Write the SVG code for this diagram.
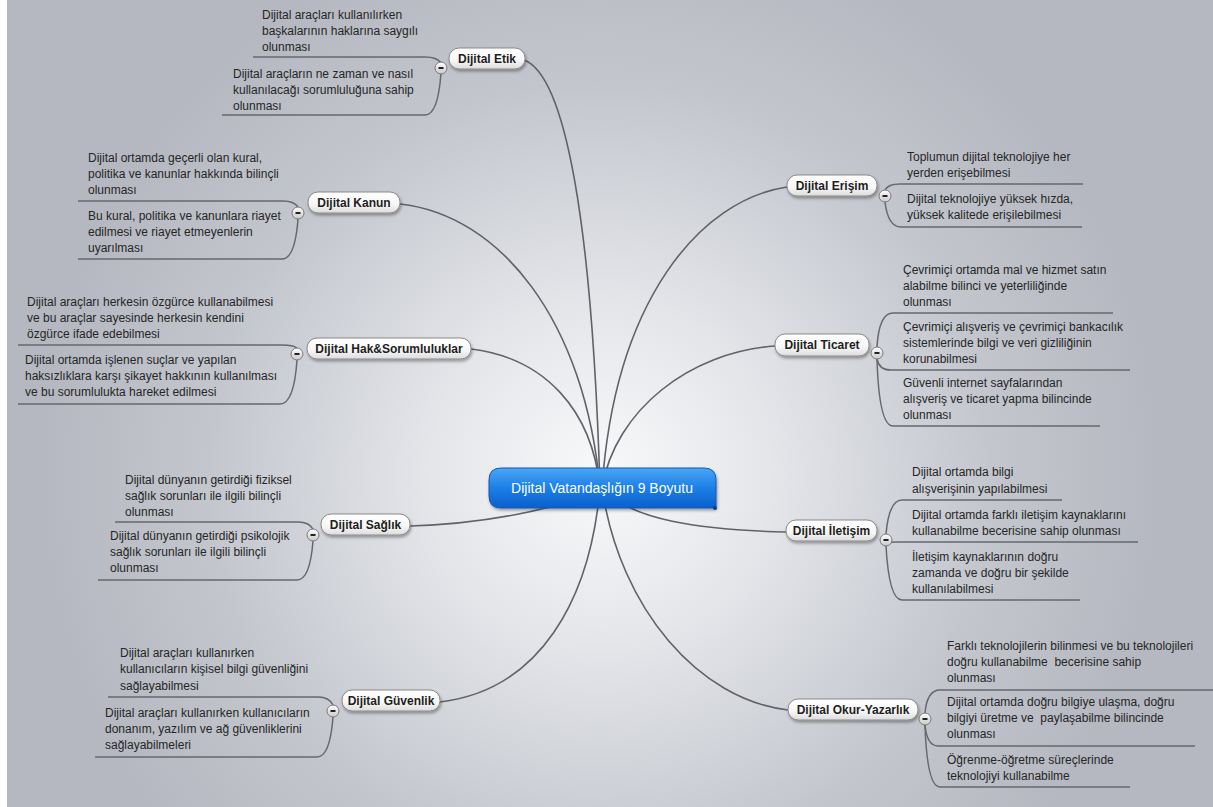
<svg xmlns="http://www.w3.org/2000/svg" width="1213" height="807" viewBox="0 0 1213 807">
<defs>
<radialGradient id="bg" gradientUnits="userSpaceOnUse" cx="600" cy="475" r="560">
<stop offset="0" stop-color="#f8f9fa"/>
<stop offset="0.3" stop-color="#e4e6ea"/>
<stop offset="0.7" stop-color="#c3c6cd"/>
<stop offset="1" stop-color="#b5b8c0"/>
</radialGradient>
<linearGradient id="pill" x1="0" y1="0" x2="0" y2="1">
<stop offset="0" stop-color="#ffffff"/>
<stop offset="0.6" stop-color="#f6f6f6"/>
<stop offset="1" stop-color="#dcdcdc"/>
</linearGradient>
<linearGradient id="blue" x1="0" y1="0" x2="0" y2="1">
<stop offset="0" stop-color="#4aa6f5"/>
<stop offset="0.5" stop-color="#1c7fe6"/>
<stop offset="1" stop-color="#0b5fcc"/>
</linearGradient>
<linearGradient id="btn" x1="0" y1="0" x2="0" y2="1">
<stop offset="0" stop-color="#ffffff"/>
<stop offset="1" stop-color="#c8c8c8"/>
</linearGradient>
<filter id="sh" x="-20%" y="-40%" width="140%" height="200%">
<feDropShadow dx="1" dy="2" stdDeviation="1.5" flood-color="#000" flood-opacity="0.35"/>
</filter>
<g id="minus">
<circle r="6" fill="url(#btn)" stroke="#7a7a7a" stroke-width="1"/>
<rect x="-2.5" y="-1" width="5" height="2" fill="#222"/>
</g>
</defs>
<style>
.t{font-family:"Liberation Sans",Arial,sans-serif;font-size:12px;fill:#262626}
.p{font-family:"Liberation Sans",Arial,sans-serif;font-size:12px;font-weight:bold;fill:#1e1e1e;text-anchor:middle}
.pb{fill:url(#pill);stroke:#8a8a8a;stroke-width:1;filter:url(#sh)}
.c{fill:none;stroke:#606268;stroke-width:1.6}
.u{fill:none;stroke:#66686e;stroke-width:1.5}
</style>
<rect width="1213" height="807" fill="url(#bg)"/>
<rect width="7" height="807" fill="#ffffff"/>

<g id="connectors">
<path class="c" d="M524,60 C565,75 592,220 600,488"/>
<path class="c" d="M400,204 C500,215 585,320 600,488"/>
<path class="c" d="M471,349 C545,358 592,410 600,488"/>
<path class="c" d="M410,526 C480,524 560,510 600,488"/>
<path class="c" d="M440,702 C540,690 590,600 600,488"/>
<path class="c" d="M787,187 C700,200 615,300 602,488"/>
<path class="c" d="M775,346 C690,352 615,410 602,488"/>
<path class="c" d="M786,532 C700,530 630,520 602,488"/>
<path class="c" d="M788,710 C700,700 620,610 602,488"/>
</g>

<g id="center">
<path d="M501,468 H704 Q716,468 716,480 V506 Q716,508 714,508 H501 Q489,508 489,496 V480 Q489,468 501,468 Z" fill="url(#blue)" stroke="#1559b5" stroke-width="1" filter="url(#sh)"/>
<circle cx="715" cy="508" r="2" fill="#0b3f8a"/>
<text x="602" y="493" font-family="Liberation Sans,Arial,sans-serif" font-size="14" fill="#ffffff" text-anchor="middle">Dijital Vatandaşlığın 9 Boyutu</text>
</g>

<g id="etik">
<path class="u" d="M253,57 L425,57 Q437,57 441,63"/>
<path class="u" d="M441,73 Q438,115 425,115 L222,115"/>
<text class="t" x="262" y="19">Dijital araçları kullanılırken</text>
<text class="t" x="262" y="35">başkalarının haklarına saygılı</text>
<text class="t" x="262" y="51">olunması</text>
<text class="t" x="233" y="78">Dijital araçların ne zaman ve nasıl</text>
<text class="t" x="233" y="94">kullanılacağı sorumluluğuna sahip</text>
<text class="t" x="233" y="110">olunması</text>
<rect class="pb" x="449" y="48" width="76" height="21" rx="10"/>
<text class="p" x="487" y="62.5">Dijital Etik</text>
<use href="#minus" x="441" y="68"/>
</g>

<g id="kanun">
<path class="u" d="M78,201 L283,201 Q294,201 298,207"/>
<path class="u" d="M298,219 Q295,259 282,259 L78,259"/>
<text class="t" x="88" y="162">Dijital ortamda geçerli olan kural,</text>
<text class="t" x="88" y="178">politika ve kanunlar hakkında bilinçli</text>
<text class="t" x="88" y="194">olunması</text>
<text class="t" x="88" y="220">Bu kural, politika ve kanunlara riayet</text>
<text class="t" x="88" y="236">edilmesi ve riayet etmeyenlerin</text>
<text class="t" x="88" y="252">uyarılması</text>
<rect class="pb" x="308" y="192" width="92" height="21" rx="10"/>
<text class="p" x="354" y="206.5">Dijital Kanun</text>
<use href="#minus" x="298" y="213"/>
</g>

<g id="hak">
<path class="u" d="M18,345 L282,345 Q293,345 297,348"/>
<path class="u" d="M297,360 Q294,404 280,404 L18,404"/>
<text class="t" x="27" y="306">Dijital araçları herkesin özgürce kullanabilmesi</text>
<text class="t" x="27" y="322">ve bu araçlar sayesinde herkesin kendini</text>
<text class="t" x="27" y="338">özgürce ifade edebilmesi</text>
<text class="t" x="25" y="364">Dijital ortamda işlenen suçlar ve yapılan</text>
<text class="t" x="25" y="380">haksızlıklara karşı şikayet hakkının kullanılması</text>
<text class="t" x="25" y="396">ve bu sorumlulukta hareket edilmesi</text>
<rect class="pb" x="307" y="338" width="164" height="21" rx="10"/>
<text class="p" x="389" y="352.5">Dijital Hak&amp;Sorumluluklar</text>
<use href="#minus" x="297" y="354"/>
</g>

<g id="saglik">
<path class="u" d="M115,522 L298,522 Q309,522 313,529"/>
<path class="u" d="M313,541 Q310,580 297,580 L98,580"/>
<text class="t" x="125" y="484">Dijital dünyanın getirdiği fiziksel</text>
<text class="t" x="125" y="500">sağlık sorunları ile ilgili bilinçli</text>
<text class="t" x="125" y="516">olunması</text>
<text class="t" x="110" y="540">Dijital dünyanın getirdiği psikolojik</text>
<text class="t" x="110" y="556">sağlık sorunları ile ilgili bilinçli</text>
<text class="t" x="110" y="572">olunması</text>
<rect class="pb" x="321" y="514" width="89" height="21" rx="10"/>
<text class="p" x="365.5" y="528.5">Dijital Sağlık</text>
<use href="#minus" x="313" y="535"/>
</g>

<g id="guvenlik">
<path class="u" d="M108,697 L318,697 Q329,697 333,705"/>
<path class="u" d="M333,717 Q330,757 317,757 L95,757"/>
<text class="t" x="120" y="657">Dijital araçları kullanırken</text>
<text class="t" x="120" y="673">kullanıcıların kişisel bilgi güvenliğini</text>
<text class="t" x="120" y="690">sağlayabilmesi</text>
<text class="t" x="105" y="717">Dijital araçları kullanırken kullanıcıların</text>
<text class="t" x="105" y="733">donanım, yazılım ve ağ güvenliklerini</text>
<text class="t" x="105" y="749">sağlayabilmeleri</text>
<rect class="pb" x="342" y="690" width="98" height="21" rx="10"/>
<text class="p" x="391" y="704.5">Dijital Güvenlik</text>
<use href="#minus" x="333" y="711"/>
</g>

<g id="erisim">
<path class="u" d="M885,190 Q888,184 900,184 L1083,184"/>
<path class="u" d="M885,202 Q888,227 901,227 L1082,227"/>
<text class="t" x="907" y="161">Toplumun dijital teknolojiye her</text>
<text class="t" x="907" y="177">yerden erişebilmesi</text>
<text class="t" x="907" y="203">Dijital teknolojiye yüksek hızda,</text>
<text class="t" x="907" y="219">yüksek kalitede erişilebilmesi</text>
<rect class="pb" x="787" y="175" width="90" height="21" rx="10"/>
<text class="p" x="832" y="189.5">Dijital Erişim</text>
<use href="#minus" x="885" y="196"/>
</g>

<g id="ticaret">
<path class="u" d="M877,347 Q879,313 893,313 L1113,313"/>
<path class="u" d="M877,359 Q879,370 891,370 L1130,370"/>
<path class="u" d="M877,359 Q879,426 893,426 L1100,426"/>
<text class="t" x="903" y="274">Çevrimiçi ortamda mal ve hizmet satın</text>
<text class="t" x="903" y="290">alabilme bilinci ve yeterliliğinde</text>
<text class="t" x="903" y="306">olunması</text>
<text class="t" x="903" y="331">Çevrimiçi alışveriş ve çevrimiçi bankacılık</text>
<text class="t" x="903" y="347">sistemlerinde bilgi ve veri gizliliğinin</text>
<text class="t" x="903" y="363">korunabilmesi</text>
<text class="t" x="903" y="387">Güvenli internet sayfalarından</text>
<text class="t" x="903" y="403">alışveriş ve ticaret yapma bilincinde</text>
<text class="t" x="903" y="419">olunması</text>
<rect class="pb" x="775" y="334" width="94" height="22" rx="10"/>
<text class="p" x="822" y="349">Dijital Ticaret</text>
<use href="#minus" x="877" y="353"/>
</g>

<g id="iletisim">
<path class="u" d="M886,534 Q889,500 902,500 L1062,500"/>
<path class="u" d="M886,546 Q887,542 896,542 L1138,542"/>
<path class="u" d="M886,546 Q889,600 902,600 L1080,600"/>
<text class="t" x="912" y="476">Dijital ortamda bilgi</text>
<text class="t" x="912" y="493">alışverişinin yapılabilmesi</text>
<text class="t" x="912" y="519">Dijital ortamda farklı iletişim kaynaklarını</text>
<text class="t" x="912" y="535">kullanabilme becerisine sahip olunması</text>
<text class="t" x="912" y="561">İletişim kaynaklarının doğru</text>
<text class="t" x="912" y="577">zamanda ve doğru bir şekilde</text>
<text class="t" x="912" y="593">kullanılabilmesi</text>
<rect class="pb" x="786" y="520" width="91" height="21" rx="10"/>
<text class="p" x="831.5" y="534.5">Dijital İletişim</text>
<use href="#minus" x="886" y="540"/>
</g>

<g id="okur">
<path class="u" d="M925,713 Q927,690 940,690 L1213,690"/>
<path class="u" d="M925,725 Q927,746 938,746 L1195,746"/>
<path class="u" d="M925,725 Q927,787 940,787 L1130,787"/>
<text class="t" x="947" y="650">Farklı teknolojilerin bilinmesi ve bu teknolojileri</text>
<text class="t" x="947" y="666" xml:space="preserve">doğru kullanabilme  becerisine sahip</text>
<text class="t" x="947" y="682">olunması</text>
<text class="t" x="947" y="706">Dijital ortamda doğru bilgiye ulaşma, doğru</text>
<text class="t" x="947" y="722" xml:space="preserve">bilgiyi üretme ve  paylaşabilme bilincinde</text>
<text class="t" x="947" y="738">olunması</text>
<text class="t" x="947" y="764">Öğrenme-öğretme süreçlerinde</text>
<text class="t" x="947" y="780">teknolojiyi kullanabilme</text>
<rect class="pb" x="788" y="699" width="130" height="21" rx="10"/>
<text class="p" x="853" y="713.5">Dijital Okur-Yazarlık</text>
<use href="#minus" x="925" y="719"/>
</g>
</svg>
